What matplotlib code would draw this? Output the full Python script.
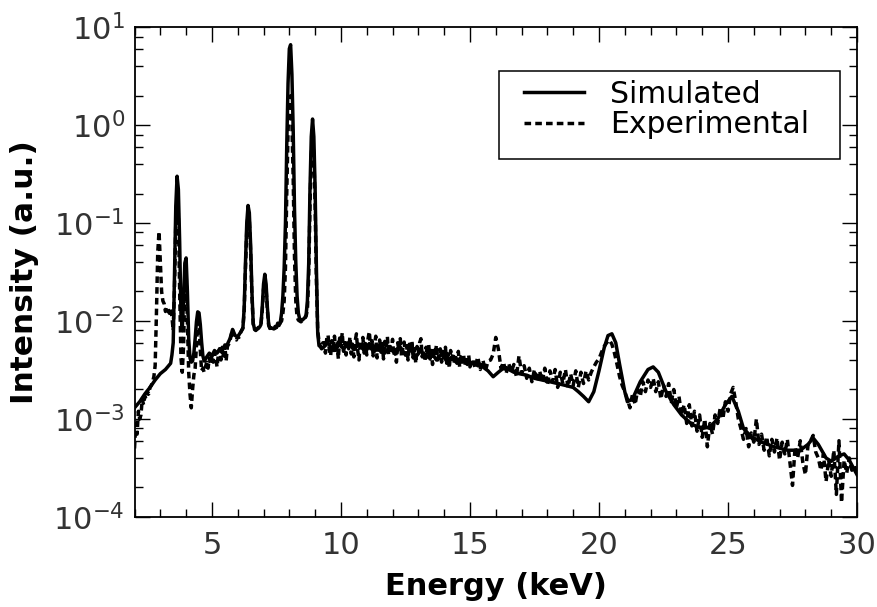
import matplotlib
matplotlib.use('Agg')
import matplotlib.pyplot as plt
from matplotlib.patches import Rectangle
from matplotlib.ticker import MultipleLocator, LogLocator, NullFormatter

# simulated spectrum (keV, a.u.)
sim_energy = [
    2.0, 2.2, 2.4, 2.6, 2.8, 3.0, 3.2, 3.4, 3.45, 3.5,
    3.55, 3.6, 3.65, 3.7, 3.75, 3.8, 3.85, 3.9, 3.95, 4.0,
    4.05, 4.1, 4.15, 4.2, 4.25, 4.3, 4.35, 4.4, 4.45, 4.5,
    4.55, 4.6, 4.65, 4.7, 4.8, 4.9, 5.0, 5.1, 5.2, 5.3,
    5.4, 5.5, 5.6, 5.7, 5.8, 5.9, 6.0, 6.1, 6.2, 6.25,
    6.3, 6.35, 6.4, 6.45, 6.5, 6.55, 6.6, 6.65, 6.7, 6.8,
    6.85, 6.9, 6.95, 7.0, 7.05, 7.1, 7.15, 7.2, 7.25, 7.3,
    7.4, 7.5, 7.55, 7.6, 7.65, 7.7, 7.75, 7.8, 7.85, 7.9,
    7.95, 8.0, 8.05, 8.1, 8.15, 8.2, 8.25, 8.3, 8.35, 8.4,
    8.5, 8.6, 8.65, 8.7, 8.75, 8.8, 8.85, 8.9, 8.95, 9.0,
    9.05, 9.1, 9.15, 9.3, 9.5, 9.7, 9.9, 10.1, 10.3, 10.5,
    10.7, 10.9, 11.1, 11.3, 11.5, 11.7, 11.9, 12.1, 12.3, 12.5,
    12.7, 12.9, 13.1, 13.3, 13.5, 13.7, 13.9, 14.1, 14.3, 14.5,
    14.7, 14.9, 15.1, 15.3, 15.5, 15.7, 15.9, 16.1, 16.3, 16.5,
    16.7, 16.9, 17.2, 17.5, 17.8, 18.1, 18.4, 18.7, 19.0, 19.2,
    19.4, 19.6, 19.8, 20.0, 20.2, 20.35, 20.5, 20.65, 20.8, 21.0,
    21.1, 21.3, 21.6, 21.9, 22.1, 22.3, 22.6, 22.9, 23.2, 23.6,
    24.0, 24.3, 24.6, 24.9, 25.15, 25.4, 25.6, 25.9, 26.3, 26.8,
    27.3, 27.8, 28.1, 28.3, 28.5, 28.8, 29.0, 29.3, 29.5, 29.7,
    30.0,
]
sim_intensity = [
    0.0013, 0.0015, 0.0018, 0.0021, 0.0025, 0.0029, 0.0032, 0.0037, 0.0045, 0.006,
    0.031, 0.15, 0.30, 0.22, 0.064, 0.012, 0.008, 0.016, 0.039, 0.044,
    0.020, 0.0066, 0.0042, 0.0038, 0.0039, 0.0047, 0.0066, 0.0098, 0.0124, 0.0121,
    0.0092, 0.0061, 0.0044, 0.0039, 0.0043, 0.0047, 0.0044, 0.0050, 0.0047, 0.0052,
    0.0050, 0.0055, 0.0058, 0.0066, 0.0082, 0.0071, 0.0069, 0.0076, 0.0084, 0.0136,
    0.039, 0.10, 0.151, 0.127, 0.060, 0.020, 0.0095, 0.0083, 0.0081, 0.0084,
    0.0087, 0.0092, 0.0137, 0.0238, 0.030, 0.0238, 0.0137, 0.0092, 0.0084, 0.0085,
    0.0083, 0.0086, 0.0095, 0.0090, 0.0097, 0.012, 0.018, 0.035, 0.10, 0.62,
    2.67, 6.0, 6.6, 3.29, 0.88, 0.14, 0.04, 0.018, 0.012, 0.0105,
    0.0102, 0.0108, 0.0115, 0.016, 0.038, 0.22, 0.76, 1.15, 0.76, 0.22,
    0.034, 0.0075, 0.0056, 0.0053, 0.0060, 0.0050, 0.0061, 0.0052, 0.0059, 0.0051,
    0.0058, 0.0050, 0.0059, 0.0049, 0.0057, 0.0047, 0.0055, 0.0046, 0.0054, 0.0045,
    0.0051, 0.0043, 0.0050, 0.0042, 0.0048, 0.0040, 0.0046, 0.0039, 0.0043, 0.0037,
    0.0041, 0.0036, 0.0038, 0.0035, 0.0034, 0.0031, 0.0027, 0.0030, 0.0033, 0.0032,
    0.0030, 0.0029, 0.0028, 0.0026, 0.0025, 0.0024, 0.0023, 0.0022, 0.0021, 0.0019,
    0.0017, 0.0015, 0.0019, 0.0031, 0.0053, 0.0071, 0.0074, 0.0060, 0.0036, 0.0019,
    0.0015, 0.0016, 0.0024, 0.0032, 0.0034, 0.0030, 0.0019, 0.0014, 0.0011, 0.00088,
    0.00080, 0.00083, 0.0010, 0.0014, 0.0017, 0.0012, 0.0008, 0.00066, 0.00058, 0.00052,
    0.00048, 0.00048, 0.00055, 0.00064, 0.00055, 0.00040, 0.00037, 0.00042, 0.00044, 0.00038,
    0.00027,
]

# experimental spectrum, 0.05 keV channels up to 9.3 keV
exp_energy_low = [
    2.00, 2.05, 2.10, 2.15, 2.20, 2.25, 2.30, 2.35, 2.40, 2.45,
    2.50, 2.55, 2.60, 2.65, 2.70, 2.75, 2.80, 2.85, 2.90, 2.95,
    3.00, 3.05, 3.10, 3.15, 3.20, 3.25, 3.30, 3.35, 3.40, 3.45,
    3.50, 3.55, 3.60, 3.65, 3.70, 3.75, 3.80, 3.85, 3.90, 3.95,
    4.00, 4.05, 4.10, 4.15, 4.20, 4.25, 4.30, 4.35, 4.40, 4.45,
    4.50, 4.55, 4.60, 4.65, 4.70, 4.75, 4.80, 4.85, 4.90, 4.95,
    5.00, 5.05, 5.10, 5.15, 5.20, 5.25, 5.30, 5.35, 5.40, 5.45,
    5.50, 5.55, 5.60, 5.65, 5.70, 5.75, 5.80, 5.85, 5.90, 5.95,
    6.00, 6.05, 6.10, 6.15, 6.20, 6.25, 6.30, 6.35, 6.40, 6.45,
    6.50, 6.55, 6.60, 6.65, 6.70, 6.75, 6.80, 6.85, 6.90, 6.95,
    7.00, 7.05, 7.10, 7.15, 7.20, 7.25, 7.30, 7.35, 7.40, 7.45,
    7.50, 7.55, 7.60, 7.65, 7.70, 7.75, 7.80, 7.85, 7.90, 7.95,
    8.00, 8.05, 8.10, 8.15, 8.20, 8.25, 8.30, 8.35, 8.40, 8.45,
    8.50, 8.55, 8.60, 8.65, 8.70, 8.75, 8.80, 8.85, 8.90, 8.95,
    9.00, 9.05, 9.10, 9.15, 9.20, 9.25, 9.30,
]
exp_intensity_low = [
    0.0005, 0.0009, 0.0007, 0.0012, 0.0010, 0.0011, 0.0016, 0.0014, 0.0017, 0.0016,
    0.0019, 0.0018, 0.0021, 0.0022, 0.0024, 0.0027, 0.0035, 0.012, 0.050, 0.082,
    0.040, 0.020, 0.016, 0.015, 0.0125, 0.0140, 0.0130, 0.0120, 0.0135, 0.0110,
    0.0080, 0.022, 0.10, 0.20, 0.12, 0.020, 0.0042, 0.0030, 0.0055, 0.022,
    0.032, 0.010, 0.0030, 0.0018, 0.0013, 0.0020, 0.0028, 0.0033, 0.0055, 0.0095,
    0.0098, 0.0050, 0.0031, 0.0033, 0.0030, 0.0034, 0.0038, 0.0033, 0.0042, 0.0036,
    0.0045, 0.0038, 0.0048, 0.0041, 0.0034, 0.0046, 0.0052, 0.0040, 0.0054, 0.0044,
    0.0057, 0.0039, 0.0055, 0.0058, 0.0063, 0.0072, 0.0082, 0.0070, 0.0066, 0.0064,
    0.0070, 0.0068, 0.0075, 0.0080, 0.0085, 0.0125, 0.034, 0.084, 0.126, 0.107,
    0.051, 0.018, 0.0093, 0.0082, 0.0080, 0.0083, 0.0086, 0.0088, 0.0092, 0.0127,
    0.021, 0.026, 0.021, 0.0127, 0.0090, 0.0084, 0.0082, 0.0084, 0.0083, 0.0088,
    0.0086, 0.0092, 0.0090, 0.0096, 0.0100, 0.0120, 0.016, 0.035, 0.20, 0.86,
    1.85, 1.99, 1.06, 0.28, 0.045, 0.016, 0.011, 0.0102, 0.0100, 0.0098,
    0.0101, 0.0103, 0.0106, 0.0112, 0.013, 0.028, 0.144, 0.50, 0.75, 0.50,
    0.144, 0.025, 0.008, 0.0062, 0.0055, 0.0052, 0.0060,
]

# experimental spectrum, 0.05 keV channels from 9.35 to 15 keV (noisy continuum)
exp_energy_mid = [
    9.35, 9.40, 9.45, 9.50, 9.55, 9.60, 9.65, 9.70, 9.75, 9.80,
    9.85, 9.90, 9.95,
    10.00, 10.05, 10.10, 10.15, 10.20, 10.25, 10.30, 10.35, 10.40, 10.45,
    10.50, 10.55, 10.60, 10.65, 10.70, 10.75, 10.80, 10.85, 10.90, 10.95,
    11.00, 11.05, 11.10, 11.15, 11.20, 11.25, 11.30, 11.35, 11.40, 11.45,
    11.50, 11.55, 11.60, 11.65, 11.70, 11.75, 11.80, 11.85, 11.90, 11.95,
    12.00, 12.05, 12.10, 12.15, 12.20, 12.25, 12.30, 12.35, 12.40, 12.45,
    12.50, 12.55, 12.60, 12.65, 12.70, 12.75, 12.80, 12.85, 12.90, 12.95,
    13.00, 13.05, 13.10, 13.15, 13.20, 13.25, 13.30, 13.35, 13.40, 13.45,
    13.50, 13.55, 13.60, 13.65, 13.70, 13.75, 13.80, 13.85, 13.90, 13.95,
    14.00, 14.05, 14.10, 14.15, 14.20, 14.25, 14.30, 14.35, 14.40, 14.45,
    14.50, 14.55, 14.60, 14.65, 14.70, 14.75, 14.80, 14.85, 14.90, 14.95,
    15.00,
]
exp_intensity_mid = [
    0.0060, 0.0047, 0.0066, 0.0072, 0.0051, 0.0044, 0.0063, 0.0053, 0.0070, 0.0048,
    0.0057, 0.0041, 0.0067,
    0.0055, 0.0076, 0.0049, 0.0060, 0.0045, 0.0064, 0.0052, 0.0069, 0.0046, 0.0058,
    0.0043, 0.0062, 0.0074, 0.0050, 0.0040, 0.0061, 0.0054, 0.0068, 0.0047, 0.0059,
    0.0045, 0.0066, 0.0078, 0.0052, 0.0063, 0.0044, 0.0057, 0.0070, 0.0042, 0.0055,
    0.0064, 0.0048, 0.0059, 0.0041, 0.0062, 0.0052, 0.0069, 0.0045, 0.0058, 0.0050,
    0.0065, 0.0044, 0.0055, 0.0038, 0.0060, 0.0049, 0.0066, 0.0043, 0.0053, 0.0061,
    0.0045, 0.0056, 0.0040, 0.0058, 0.0048, 0.0063, 0.0042, 0.0052, 0.0037, 0.0055,
    0.0046, 0.0060, 0.0066, 0.0043, 0.0051, 0.0039, 0.0054, 0.0045, 0.0058, 0.0041,
    0.0050, 0.0036, 0.0053, 0.0044, 0.0057, 0.0040, 0.0047, 0.0052, 0.0038, 0.0049,
    0.0042, 0.0054, 0.0037, 0.0046, 0.0033, 0.0050, 0.0041, 0.0047, 0.0036, 0.0045,
    0.0039, 0.0049, 0.0034, 0.0043, 0.0038, 0.0046, 0.0035, 0.0042, 0.0037, 0.0045,
    0.0034,
]

# experimental spectrum, 0.1 keV channels above 15 keV
exp_energy_high = [
    15.1, 15.2, 15.3, 15.4, 15.5, 15.6, 15.7, 15.8, 15.9, 16.0,
    16.1, 16.2, 16.3, 16.4, 16.5, 16.6, 16.7, 16.8, 16.9, 17.0,
    17.1, 17.2, 17.3, 17.4, 17.5, 17.6, 17.7, 17.8, 17.9, 18.0,
    18.1, 18.2, 18.3, 18.4, 18.5, 18.6, 18.7, 18.8, 18.9, 19.0,
    19.1, 19.2, 19.3, 19.4, 19.5, 19.6, 19.7, 19.8, 19.9, 20.0,
    20.1, 20.2, 20.3, 20.4, 20.5, 20.6, 20.7, 20.8, 20.9, 21.0,
    21.1, 21.2, 21.3, 21.4, 21.5, 21.6, 21.7, 21.8, 21.9, 22.0,
    22.1, 22.2, 22.3, 22.4, 22.5, 22.6, 22.7, 22.8, 22.9, 23.0,
    23.1, 23.2, 23.3, 23.4, 23.5, 23.6, 23.7, 23.8, 23.9, 24.0,
    24.1, 24.2, 24.3, 24.4, 24.5, 24.6, 24.7, 24.8, 24.9, 25.0,
    25.1, 25.2, 25.3, 25.4, 25.5, 25.6, 25.7, 25.8, 25.9, 26.0,
    26.1, 26.2, 26.3, 26.4, 26.5, 26.6, 26.7, 26.8, 26.9, 27.0,
    27.1, 27.2, 27.3, 27.4, 27.5, 27.6, 27.7, 27.8, 27.9, 28.0,
    28.1, 28.2, 28.3, 28.4, 28.5, 28.6, 28.7, 28.8, 28.9, 29.0,
    29.1, 29.2, 29.3, 29.4, 29.5, 29.6, 29.7, 29.8, 29.9, 30.0,
]
exp_intensity_high = [
    0.0041, 0.0033, 0.0043, 0.0032, 0.0040, 0.0031, 0.0039, 0.0040, 0.0046, 0.0068,
    0.0052, 0.0033, 0.0038, 0.0029, 0.0037, 0.0030, 0.0036, 0.0027, 0.0044, 0.0029,
    0.0035, 0.0026, 0.0033, 0.0024, 0.0032, 0.0024, 0.0031, 0.0024, 0.0033, 0.0022,
    0.0031, 0.0024, 0.0032, 0.0021, 0.0030, 0.0023, 0.0032, 0.0021, 0.0029, 0.0022,
    0.0031, 0.0021, 0.0030, 0.0023, 0.0031, 0.0025, 0.0030, 0.0034, 0.0038, 0.0041,
    0.0048, 0.0055, 0.0060, 0.0064, 0.0058, 0.0047, 0.0036, 0.0027, 0.0022, 0.0019,
    0.0016, 0.0013, 0.0018, 0.0014, 0.0020, 0.0017, 0.0024, 0.0019, 0.0025, 0.0021,
    0.0026, 0.0019, 0.0024, 0.0016, 0.0022, 0.0017, 0.0023, 0.0015, 0.0020, 0.0013,
    0.0017, 0.0011, 0.0014, 0.0009, 0.0014, 0.00085, 0.0012, 0.00075, 0.0011, 0.00065,
    0.0010, 0.00052, 0.0009, 0.0007, 0.0011, 0.0009, 0.0013, 0.0010, 0.0015, 0.0012,
    0.0018, 0.0021, 0.0015, 0.0010, 0.0008, 0.00062, 0.00080, 0.00052, 0.00072, 0.00058,
    0.0010, 0.00055, 0.00070, 0.00048, 0.00066, 0.00042, 0.00062, 0.00046, 0.00064, 0.00038,
    0.00058, 0.00044, 0.00062, 0.00036, 0.00021, 0.00052, 0.00040, 0.00060, 0.00036, 0.00027,
    0.00054, 0.00060, 0.00068, 0.00046, 0.00040, 0.00030, 0.00044, 0.00023, 0.00038, 0.00026,
    0.00048, 0.00017, 0.00060, 0.00014, 0.00038, 0.00028, 0.00040, 0.00030, 0.00033, 0.00026,
]

exp_energy = exp_energy_low + exp_energy_mid + exp_energy_high
exp_intensity = exp_intensity_low + exp_intensity_mid + exp_intensity_high

fig = plt.figure(figsize=(8.78, 6.07), dpi=100)
ax = fig.add_axes([0.1532, 0.1483, 0.8229, 0.8072])

ax.plot(sim_energy, sim_intensity, color='black', lw=2.5, label='Simulated')
ax.plot(exp_energy, exp_intensity, color='black', lw=2.5,
        linestyle=(0, (1.9, 1.2)), label='Experimental')

ax.set_yscale('log')
ax.set_xlim(2, 30)
ax.set_ylim(1e-4, 10)

ax.xaxis.set_major_locator(MultipleLocator(5))
ax.xaxis.set_minor_locator(MultipleLocator(1))
ax.yaxis.set_major_locator(LogLocator(base=10, numticks=10))
ax.yaxis.set_minor_locator(LogLocator(base=10, subs=(2, 4, 6, 8), numticks=10))
ax.yaxis.set_minor_formatter(NullFormatter())

ax.tick_params(which='both', direction='in', top=True, right=True, width=1)
ax.tick_params(which='major', length=11, labelsize=22, labelcolor='#333333')
ax.tick_params(axis='x', which='major', pad=10)
ax.tick_params(axis='y', which='major', pad=7)
ax.tick_params(which='minor', length=6)
for sp in ax.spines.values():
    sp.set_linewidth(1.3)

ax.set_xlabel('Energy (keV)', fontsize=22, fontweight='bold', labelpad=9)
ax.set_ylabel('Intensity (a.u.)', fontsize=22.5, fontweight='bold', labelpad=10.5)

# legend box drawn separately so its padding can match
ax.add_patch(Rectangle((0.5045, 0.7306), 0.472, 0.1796, transform=ax.transAxes,
                       facecolor='white', edgecolor='black', lw=1.1, zorder=4))
leg = ax.legend(loc='upper left', bbox_to_anchor=(0.5395, 0.892), borderaxespad=0,
                borderpad=0, fontsize=21.5, frameon=False, handlelength=2.0,
                handletextpad=0.88, labelspacing=0.04)
leg.set_zorder(5)

fig.savefig('out.png', dpi=100)
